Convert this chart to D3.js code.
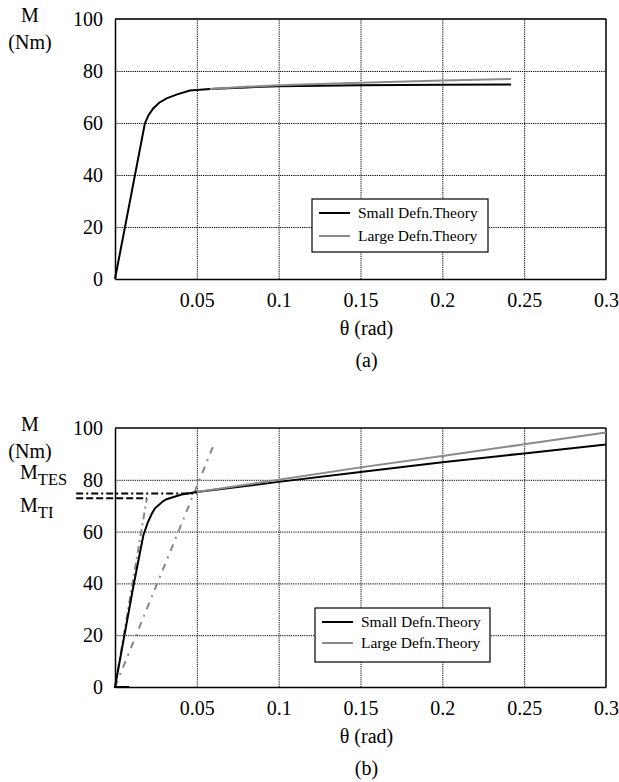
<!DOCTYPE html>
<html>
<head>
<meta charset="utf-8">
<script src="https://cdn.jsdelivr.net/npm/d3@7.9.0/dist/d3.min.js"></script>
<style>
  body { margin: 0; background: #fff; }
  svg { display: block; font-family: "Liberation Serif", "Times New Roman", serif; }
  .grid line { stroke: #000; stroke-width: 1; stroke-dasharray: 1.2, 1; }
</style>
</head>
<body>
<div id="chart"></div>
<script>
const thetaTicks = [0.05, 0.1, 0.15, 0.2, 0.25, 0.3];
const mTicks = [0, 20, 40, 60, 80, 100];
const seriesNames = ['Small Defn.Theory', 'Large Defn.Theory'];

// chart (a)
const smallA = [
  [0, 0], [0.0183, 60], [0.0205, 63], [0.0233, 65.6], [0.027, 67.8], [0.0315, 69.5],
  [0.038, 71], [0.0457, 72.5], [0.058, 73.1], [0.08, 73.7], [0.1, 74.1],
  [0.15, 74.5], [0.2, 74.7], [0.242, 74.8],
];
const largeA = [
  [0.058, 73.1], [0.08, 73.9], [0.1, 74.5], [0.15, 75.5], [0.2, 76.3], [0.242, 76.9],
];

// chart (b)
const smallB = [
  [0.0087, 0], [0, 0], [0.0112, 38.8], [0.0173, 58.5], [0.02, 63.5], [0.0224, 66.8],
  [0.0244, 69], [0.0295, 71.8], [0.0315, 72.5], [0.0407, 74.3], [0.05, 75.3],
  [0.1, 79.2], [0.15, 83], [0.2, 86.8], [0.25, 90.2], [0.3, 93.6],
];
const largeB = [
  [0.05, 75.3], [0.1, 80], [0.15, 84.8], [0.2, 89.2], [0.25, 93.7], [0.3, 98.3],
];
const tangentB = [[0, 0], [0.0195, 73]];
const secantB = [[0, 0], [0.06, 93]];
const mTES = { value: 74.7, from: -0.0237, to: 0.05 };
const mTI = { value: 72.9, from: -0.0237, to: 0.0195 };

const width = 619;
const height = 782;

const svg = d3.select('#chart')
  .append('svg')
  .attr('width', width)
  .attr('height', height);

function drawPanel(opts) {
  const { top, bottom, left, right, small, large, caption, legendBox } = opts;

  const x = d3.scaleLinear().domain([0, 0.3]).range([left, right]);
  const y = d3.scaleLinear().domain([0, 100]).range([bottom, top]);

  const g = svg.append('g');

  // gridlines
  g.append('g')
    .attr('class', 'grid')
    .attr('transform', `translate(${left},0)`)
    .call(d3.axisLeft(y).tickValues([20, 40, 60, 80]).tickFormat('').tickSize(-(right - left)))
    .call((s) => s.select('.domain').remove());

  g.append('g')
    .attr('class', 'grid')
    .attr('transform', `translate(0,${bottom})`)
    .call(d3.axisBottom(x).tickValues(thetaTicks.slice(0, -1)).tickFormat('').tickSize(-(bottom - top)))
    .call((s) => s.select('.domain').remove());

  // frame
  g.append('line')
    .attr('x1', left).attr('x2', right).attr('y1', top).attr('y2', top)
    .attr('stroke', opts.topColor).attr('stroke-width', opts.topWidth);
  g.append('line')
    .attr('x1', right).attr('x2', right).attr('y1', top).attr('y2', bottom)
    .attr('stroke', '#000').attr('stroke-width', 1.5);

  // axes
  const xAxis = g.append('g')
    .attr('transform', `translate(0,${bottom})`)
    .call(d3.axisBottom(x).tickValues(thetaTicks).tickSize(0).tickPadding(14).tickFormat(d3.format('')));
  xAxis.select('.domain').attr('stroke', '#000').attr('stroke-width', 1.5);
  xAxis.selectAll('text').attr('font-size', 20).attr('fill', '#000').attr('font-family', 'Liberation Serif');

  const yAxis = g.append('g')
    .attr('transform', `translate(${left},0)`)
    .call(d3.axisLeft(y).tickValues(mTicks).tickSize(0).tickPadding(12));
  yAxis.select('.domain').attr('stroke', '#000').attr('stroke-width', 1.5);
  yAxis.selectAll('text').attr('font-size', 20).attr('fill', '#000').attr('font-family', 'Liberation Serif');

  const line = d3.line().x((d) => x(d[0])).y((d) => y(d[1]));

  if (opts.extra) opts.extra(g, x, y, line);

  g.append('path').datum(small)
    .attr('d', line).attr('fill', 'none')
    .attr('stroke', '#000').attr('stroke-width', 2);
  g.append('path').datum(large)
    .attr('d', line).attr('fill', 'none')
    .attr('stroke', '#8a8a8a').attr('stroke-width', 2);

  // axis titles
  g.append('text').attr('x', 30).attr('y', top + 3).attr('text-anchor', 'middle')
    .attr('font-size', 20).text('M');
  g.append('text').attr('x', 30).attr('y', top + 30).attr('text-anchor', 'middle')
    .attr('font-size', 20).text('(Nm)');
  g.append('text').attr('x', (left + right) / 2 + 6).attr('y', bottom + 56).attr('text-anchor', 'middle')
    .attr('font-size', 20).text('θ (rad)');
  g.append('text').attr('x', (left + right) / 2 + 6).attr('y', bottom + 88).attr('text-anchor', 'middle')
    .attr('font-size', 20).text(caption);

  // legend
  const lg = g.append('g');
  lg.append('rect')
    .attr('x', legendBox.x).attr('y', legendBox.y)
    .attr('width', legendBox.w).attr('height', legendBox.h)
    .attr('fill', '#fff').attr('stroke', '#000').attr('stroke-width', 1.2);
  const colors = ['#000', '#8a8a8a'];
  seriesNames.forEach((name, i) => {
    const cy = legendBox.y + legendBox.first + i * legendBox.step;
    lg.append('line')
      .attr('x1', legendBox.x + 7).attr('x2', legendBox.x + 38)
      .attr('y1', cy).attr('y2', cy)
      .attr('stroke', colors[i]).attr('stroke-width', 2);
    lg.append('text')
      .attr('x', legendBox.x + 46).attr('y', cy + 5)
      .attr('font-size', 15.5).text(name);
  });
}

drawPanel({
  top: 19, bottom: 279, left: 115, right: 606,
  small: smallA, large: largeA, caption: '(a)',
  topColor: '#333', topWidth: 2,
  legendBox: { x: 312, y: 199, w: 176, h: 53, first: 14, step: 23 },
});

drawPanel({
  top: 428, bottom: 687, left: 115, right: 606,
  small: smallB, large: largeB, caption: '(b)',
  topColor: '#000', topWidth: 1.5,
  legendBox: { x: 315, y: 608, w: 175, h: 54, first: 14, step: 21 },
  extra: (g, x, y, line) => {
    g.append('path').datum(tangentB)
      .attr('d', line).attr('fill', 'none')
      .attr('stroke', '#888').attr('stroke-width', 2)
      .attr('stroke-dasharray', '7,4,2,4');
    g.append('path').datum(secantB)
      .attr('d', line).attr('fill', 'none')
      .attr('stroke', '#888').attr('stroke-width', 2)
      .attr('stroke-dasharray', '7,6,2,6');
    g.append('line')
      .attr('x1', x(mTES.from)).attr('x2', x(mTES.to))
      .attr('y1', y(mTES.value)).attr('y2', y(mTES.value))
      .attr('stroke', '#000').attr('stroke-width', 2)
      .attr('stroke-dasharray', '7,3,2,3');
    g.append('line')
      .attr('x1', x(mTI.from)).attr('x2', x(mTI.to))
      .attr('y1', y(mTI.value)).attr('y2', y(mTI.value))
      .attr('stroke', '#000').attr('stroke-width', 2)
      .attr('stroke-dasharray', '7,3');

    const t1 = g.append('text').attr('x', 20).attr('y', 479).attr('font-size', 20);
    t1.append('tspan').text('M');
    t1.append('tspan').attr('font-size', 16.5).attr('dy', 6).text('TES');
    const t2 = g.append('text').attr('x', 20).attr('y', 512).attr('font-size', 20);
    t2.append('tspan').text('M');
    t2.append('tspan').attr('font-size', 16.5).attr('dy', 6).text('TI');
  },
});
</script>
</body>
</html>
